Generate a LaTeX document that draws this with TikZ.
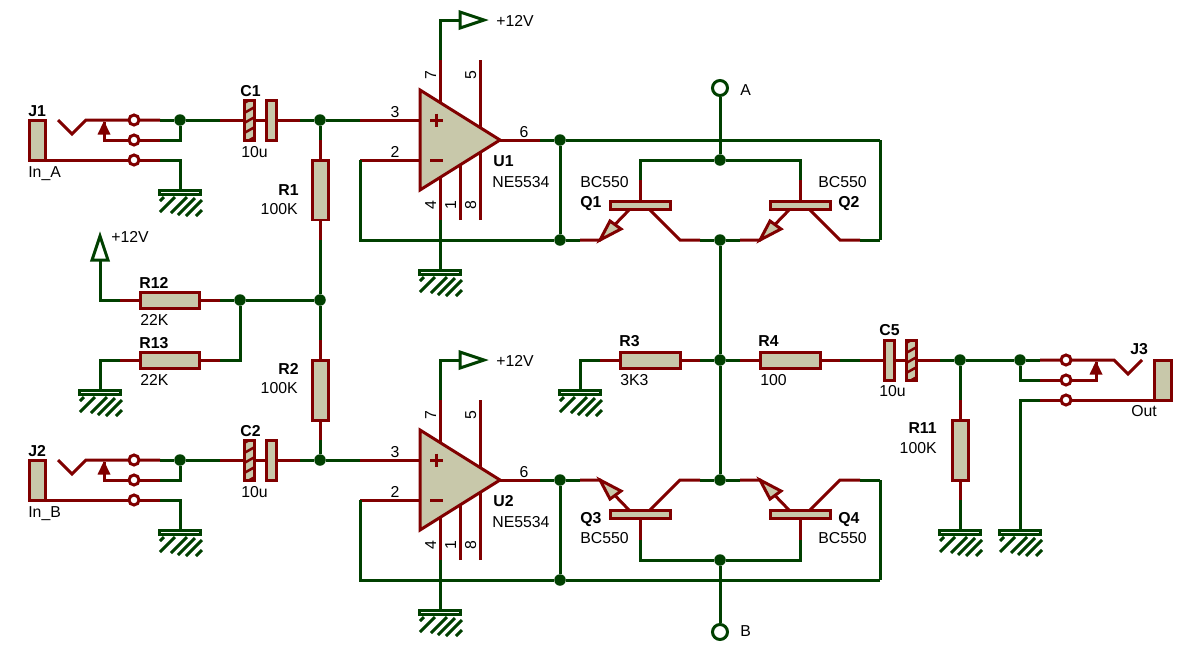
\documentclass[tikz,border=0pt]{standalone}
\usepackage{fontspec}
\setmainfont{Liberation Sans}
\definecolor{wiregreen}{RGB}{0,64,0}
\definecolor{pinred}{RGB}{128,0,0}
\definecolor{bodytan}{RGB}{200,200,170}
\tikzset{
  wire/.style={draw=wiregreen,line width=.06cm},
  pin/.style={draw=pinred,line width=.06cm},
  hv/.style={to path={-| (\tikztotarget)}},
  vh/.style={to path={|- (\tikztotarget)}},
  junction/.style={circle,fill=wiregreen,minimum size=.23cm,inner sep=0},
  term/.style={circle,draw=pinred,fill=white,line width=.06cm,minimum size=.2cm,inner sep=0},
  conn/.style={circle,draw=wiregreen,fill=white,line width=.06cm,minimum size=.3cm,inner sep=0},
  bodybox/.style={rectangle,draw=pinred,fill=bodytan,line width=.06cm,inner sep=0},
  hatchplate/.style={bodybox,minimum width=.19cm,minimum height=.8cm,path picture={
    \foreach \k in {-30,-20,...,30}
      \draw[pinred,line width=.05cm] ([shift={(-6pt,\k*.57pt-3.4pt)}]path picture bounding box.center) --
        ([shift={(6pt,\k*.57pt+3.4pt)}]path picture bounding box.center);}},
  vallbl/.style={font=\fontsize{9}{10}\selectfont,inner sep=0,anchor=base west},
  vallbr/.style={vallbl,anchor=base east},
  reflbl/.style={font=\fontsize{9}{10}\selectfont\bfseries,inner sep=0,anchor=base west},
  reflbr/.style={reflbl,anchor=base east},
  pinlbl/.style={font=\fontsize{9}{10}\selectfont,inner sep=0,anchor=base},
  hres/.pic={
    \coordinate (-a) at (-50,0);
    \coordinate (-b) at (50,0);
    \draw[pin] (-a) -- (-b);
    \node[bodybox,minimum width=1.2cm,minimum height=.32cm] (-body) at (0,0) {};
  },
  vres/.pic={
    \coordinate (-a) at (0,-50);
    \coordinate (-b) at (0,50);
    \draw[pin] (-a) -- (-b);
    \node[bodybox,minimum width=.32cm,minimum height=1.2cm] (-body) at (0,0) {};
  },
  capa/.pic={
    \coordinate (-a) at (-40,0);
    \coordinate (-b) at (40,0);
    \draw[pin] (-a) -- (-b);
    \node[hatchplate] (-hatch) at (-10.5,0) {};
    \node[bodybox,minimum width=.19cm,minimum height=.8cm] (-plate) at (11.5,0) {};
  },
  capb/.pic={
    \coordinate (-a) at (-40,0);
    \coordinate (-b) at (40,0);
    \draw[pin] (-a) -- (-b);
    \node[bodybox,minimum width=.19cm,minimum height=.8cm] (-plate) at (-10.5,0) {};
    \node[hatchplate] (-hatch) at (11.5,0) {};
  },
  gnd/.pic={
    \coordinate (-top) at (0,0);
    \draw[wire,fill=white,line width=.05cm] (-20.5,0.5) rectangle (20.5,4.5);
    \draw[wire] (-16,7) -- (-20,11) (-5,7) -- (-20,22) (7,7) -- (-9,23)
                (15,8) -- (-2,25) (22,10) -- (6,26) (22,20) -- (16,26);
  },
  supply/.pic={
    \coordinate (-base) at (0,0);
    \draw[wire,fill=white,line join=miter] (-8,0) -- (8,0) -- (0,-24) -- cycle;
  },
  jack/.pic={
    \coordinate (-a) at (0,0);
    \coordinate (-b) at (0,20);
    \coordinate (-c) at (0,40);
    \draw[pin] (-102,0) -- (-88,14) -- (-74,0) -- (-a);
    \draw[pin] (-56,2) -- (-56,20) -- (-b);
    \draw[pin] (-114,40) -- (-c);
    \fill[pinred] (-56,1) -- (-62.5,14.5) -- (-49.5,14.5) -- cycle;
    \node[bodybox,minimum width=.34cm,minimum height=.8cm] (-body) at (-122.5,20) {};
    \node[term] (-t1) at (-26,0) {};
    \node[term] (-t2) at (-26,20) {};
    \node[term] (-t3) at (-26,40) {};
  },
  npn/.pic={
    \coordinate (-e) at (-60,0);
    \coordinate (-c) at (60,0);
    \coordinate (-b) at (0,-60);
    \draw[pin] (-b) -- (0,-34);
    \draw[pin] (-e) -- (-40,0) -- (-11,-30);
    \draw[pin] (10,-30) -- (40,0) -- (-c);
    \draw[pin,fill=bodytan,line join=miter] (-40,0) -- (-30,-19) -- (-19,-11) -- cycle;
    \node[bodybox,minimum width=1.2cm,minimum height=.16cm] (-body) at (0,-34.5) {};
  },
  opamp/.pic={
    \coordinate (-p) at (-60,-20);
    \coordinate (-n) at (-60,20);
    \coordinate (-o) at (120,0);
    \coordinate (-v) at (20,-80);
    \coordinate (-g) at (20,80);
    \draw[pin] (-p) -- (10,-20) (-n) -- (10,20) (40,0) -- (-o);
    \draw[pin] (-v) -- (-g) (60,-80) -- (60,0) (40,80) -- (40,0) (60,80) -- (60,0);
    \draw[pin,fill=bodytan,line join=miter] (0,-50) -- (0,50) -- (80,0) -- cycle;
    \draw[pin] (10,-20) -- (23,-20) (16.5,-26.5) -- (16.5,-13.5) (10,20) -- (23,20);
    \node[pinlbl] (-n3) at (-25,-23) {3};
    \node[pinlbl] (-n2) at (-25,17) {2};
    \node[pinlbl] (-n6) at (104,-3) {6};
    \node[pinlbl,rotate=90] (-n7) at (16,-65) {7};
    \node[pinlbl,rotate=90] (-n5) at (56,-65) {5};
    \node[pinlbl,rotate=90] (-n4) at (16,65) {4};
    \node[pinlbl,rotate=90] (-n1) at (36,65) {1};
    \node[pinlbl,rotate=90] (-n8) at (56,65) {8};
  }
}

\begin{document}
\begin{tikzpicture}[x=.02cm,y=-.02cm]
  \useasboundingbox (0,0) rectangle (1200,660);

  \coordinate (k1) at (880,140);
  \coordinate (k2) at (880,240);
  \coordinate (k3) at (880,480);
  \coordinate (k4) at (880,580);

  \pic (J1) at (160,120) {jack};
  \pic (J2) at (160,460) {jack};
  \pic[xscale=-1] (J3) at (1040,360) {jack};
  \pic (C1) at (260,120) {capa};
  \pic (C2) at (260,460) {capa};
  \pic (C5) at (900,360) {capb};
  \pic (R1) at (320,190) {vres};
  \pic (R2) at (320,390) {vres};
  \pic (R11) at (960,450) {vres};
  \pic (R12) at (170,300) {hres};
  \pic (R13) at (170,360) {hres};
  \pic (R3) at (650,360) {hres};
  \pic (R4) at (790,360) {hres};
  \pic (U1) at (420,140) {opamp};
  \pic (U2) at (420,480) {opamp};
  \pic (Q1) at (640,240) {npn};
  \pic (Q2) at (800,240) {npn};
  \pic[yscale=-1] (Q3) at (640,480) {npn};
  \pic[yscale=-1] (Q4) at (800,480) {npn};
  \pic (g1) at (180,190) {gnd};
  \pic (g2) at (440,270) {gnd};
  \pic (g3) at (180,530) {gnd};
  \pic (g4) at (440,610) {gnd};
  \pic (g5) at (100,390) {gnd};
  \pic (g6) at (580,390) {gnd};
  \pic (g7) at (960,530) {gnd};
  \pic (g8) at (1020,530) {gnd};
  \pic[rotate=-90] (V1) at (460,20) {supply};
  \pic[rotate=-90] (V2) at (460,360) {supply};
  \pic (V3) at (100,260) {supply};

  \node[junction] (j1) at (180,120) {};
  \node[junction] (j2) at (180,460) {};
  \node[junction] (n1) at (320,120) {};
  \node[junction] (n2) at (320,460) {};
  \node[junction] (n3) at (320,300) {};
  \node[junction] (n4) at (240,300) {};
  \node[junction] (n5) at (960,360) {};
  \node[junction] (n6) at (1020,360) {};
  \node[junction] (d1) at (560,140) {};
  \node[junction] (d2) at (560,240) {};
  \node[junction] (d3) at (560,480) {};
  \node[junction] (d4) at (560,580) {};
  \node[junction] (t1) at (720,160) {};
  \node[junction] (t2) at (720,560) {};
  \node[junction] (m1) at (720,240) {};
  \node[junction] (m2) at (720,360) {};
  \node[junction] (m3) at (720,480) {};
  \node[conn] (A) at (720,88) {};
  \node[conn] (B) at (720,632) {};

  \path[wire]
    (J1-a) edge (j1)
    (J1-b) edge[hv] (j1)
    (J1-c) edge[hv] (g1-top)
    (j1) edge (C1-a)
    (C1-b) edge (n1)
    (n1) edge (R1-a)
    (R1-b) edge (n3)
    (n3) edge (R2-a)
    (R2-b) edge (n2)
    (n1) edge (U1-p)
    (U1-n) edge[vh] (d2)
    (U1-o) edge (d1)
    (d1) edge (d2)
    (d1) edge (k1)
    (k1) edge (k2)
    (k2) edge (Q2-c)
    (d2) edge (Q1-e)
    (Q1-c) edge (m1)
    (m1) edge (Q2-e)
    (A) edge (t1)
    (t1) edge[hv] (Q1-b)
    (t1) edge[hv] (Q2-b)
    (m1) edge (m2)
    (m2) edge (m3)
    (U1-v) edge[vh] (V1-base)
    (U1-g) edge (g2-top)
    (V3-base) edge[vh] (R12-a)
    (R12-b) edge (n4)
    (n4) edge (n3)
    (n4) edge[vh] (R13-b)
    (R13-a) edge[hv] (g5-top)
    (g6-top) edge[vh] (R3-a)
    (R3-b) edge (m2)
    (m2) edge (R4-a)
    (R4-b) edge (C5-a)
    (C5-b) edge (n5)
    (n5) edge (n6)
    (n5) edge (R11-a)
    (R11-b) edge (g7-top)
    (n6) edge (J3-a)
    (J3-b) edge[hv] (n6)
    (J3-c) edge[hv] (g8-top)
    (J2-a) edge (j2)
    (J2-b) edge[hv] (j2)
    (J2-c) edge[hv] (g3-top)
    (j2) edge (C2-a)
    (C2-b) edge (n2)
    (n2) edge (U2-p)
    (U2-n) edge[vh] (d4)
    (U2-o) edge (d3)
    (d3) edge (d4)
    (d3) edge (Q3-e)
    (Q3-c) edge (m3)
    (m3) edge (Q4-e)
    (Q4-c) edge (k3)
    (k3) edge (k4)
    (k4) edge (d4)
    (t2) edge[hv] (Q3-b)
    (t2) edge[hv] (Q4-b)
    (t2) edge (B)
    (U2-v) edge[vh] (V2-base)
    (U2-g) edge (g4-top);

  \node[reflbl] (J1l) at (28,116) {J1};
  \node[vallbl] (J1v) at (28,177) {In\_A};
  \node[reflbl] (J2l) at (28,456) {J2};
  \node[vallbl] (J2v) at (28,517) {In\_B};
  \node[reflbl] (J3l) at (1130,354) {J3};
  \node[vallbl] (J3v) at (1131,416) {Out};
  \node[reflbl] (C1l) at (240,96) {C1};
  \node[vallbl] (C1v) at (241,157) {10u};
  \node[reflbl] (C2l) at (240,436) {C2};
  \node[vallbl] (C2v) at (241,497) {10u};
  \node[reflbl] (C5l) at (879,335) {C5};
  \node[vallbl] (C5v) at (879,396) {10u};
  \node[reflbr] (R1l) at (299,195) {R1};
  \node[vallbr] (R1v) at (298,214) {100K};
  \node[reflbr] (R2l) at (299,374) {R2};
  \node[vallbr] (R2v) at (298,393) {100K};
  \node[reflbr] (R11l) at (937,433) {R11};
  \node[vallbr] (R11v) at (937,453) {100K};
  \node[reflbl] (R12l) at (139,288) {R12};
  \node[vallbl] (R12v) at (140,325) {22K};
  \node[reflbl] (R13l) at (139,348) {R13};
  \node[vallbl] (R13v) at (140,385) {22K};
  \node[reflbl] (R3l) at (619,346) {R3};
  \node[vallbl] (R3v) at (620,385) {3K3};
  \node[reflbl] (R4l) at (758,346) {R4};
  \node[vallbl] (R4v) at (760,385) {100};
  \node[reflbl] (U1l) at (493,166) {U1};
  \node[vallbl] (U1v) at (492,187) {NE5534};
  \node[reflbl] (U2l) at (493,506) {U2};
  \node[vallbl] (U2v) at (492,527) {NE5534};
  \node[vallbl] (Q1v) at (580,187) {BC550};
  \node[reflbl] (Q1l) at (580,207) {Q1};
  \node[vallbl] (Q2v) at (818,187) {BC550};
  \node[reflbl] (Q2l) at (838,207) {Q2};
  \node[reflbl] (Q3l) at (580,523) {Q3};
  \node[vallbl] (Q3v) at (580,543) {BC550};
  \node[reflbl] (Q4l) at (838,523) {Q4};
  \node[vallbl] (Q4v) at (818,543) {BC550};
  \node[vallbl] (V1l) at (496,26) {+12V};
  \node[vallbl] (V2l) at (496,366) {+12V};
  \node[vallbl] (V3l) at (111,242) {+12V};
  \node[vallbl] (Al) at (740,95) {A};
  \node[vallbl] (Bl) at (740,636) {B};
\end{tikzpicture}
\end{document}
